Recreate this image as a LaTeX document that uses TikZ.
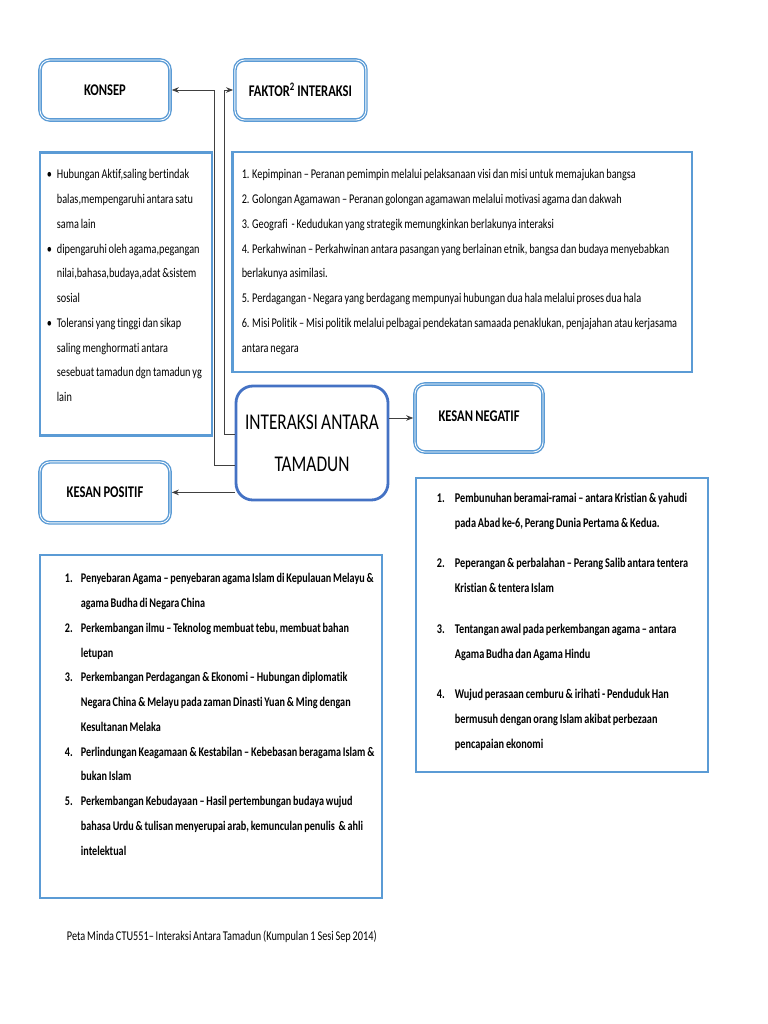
\documentclass[tikz,border=0pt]{standalone}
\usepackage{fontspec}
\setmainfont{Carlito}[FakeStretch=0.77, WordSpace=0.8, Ligatures={NoCommon}]
\usetikzlibrary{arrows.meta,positioning,calc}
\definecolor{boxblue}{RGB}{91,155,213}
\definecolor{hubblue}{RGB}{68,114,196}
% label of a list entry, and the indent of its next lines
\newcommand{\entry}[2]{\makebox[#1][l]{#2}}
\newcommand{\cont}[1]{\hspace*{#1}}
\tikzset{
  headbox/.style={draw=boxblue, line width=2.6pt, rounded corners=7pt,
    postaction={draw=white, line width=0.6pt},
    font=\fontsize{11.6}{14}\selectfont\bfseries,
    minimum width=3.25cm, minimum height=1.5cm, inner sep=0pt},
  listbox/.style={draw=boxblue, line width=2pt, rectangle, inner sep=0pt},
  listtext/.style={align=left, inner sep=0pt, anchor=west,
    font=\fontsize{9.5}{17.6}\selectfont},
  hubbox/.style={draw=hubblue, line width=2pt, rounded corners=12pt,
    align=center, font=\fontsize{16}{30}\selectfont,
    minimum width=3.8cm, minimum height=2.85cm},
  link/.style={draw=black!75, line width=0.6pt},
  linkarrow/.style={link, -{Stealth[length=5pt, width=4pt]}},
}
\begin{document}
\begin{tikzpicture}[x=1cm, y=1cm]
\path[use as bounding box] (0,0) rectangle (19.2,-25.6);

%% ── Centre ───────────────────────────────────────────────────────────────
\node[hubbox] (tamadun) at (7.8,-11.075) {INTERAKSI ANTARA\\TAMADUN};

%% ── Headings ─────────────────────────────────────────────────────────────
\node[headbox] (konsep)  at (2.625,-2.25)  {KONSEP};
\node[headbox, minimum width=3.275cm] (faktor) at (7.51,-2.25)
  {FAKTOR\textsuperscript{2} INTERAKSI};
\node[headbox, minimum width=3.2cm, minimum height=1.7cm] (negatif)
  at (11.975,-10.45) {\raisebox{2pt}{KESAN NEGATIF}};
\node[headbox, minimum height=1.525cm] (positif) at (2.625,-12.31)
  {KESAN POSITIF};

%% ── Konsep ───────────────────────────────────────────────────────────────
\node[listbox, minimum width=4.3cm, minimum height=7.075cm] (konsepbox)
  at (3.15,-7.34) {};
\node[listtext] (konsepteks) at ([xshift=0.2cm, yshift=0.2cm]konsepbox.west) {%
  \entry{0.25cm}{\textbullet}Hubungan Aktif,saling bertindak\\
  \cont{0.25cm}balas,mempengaruhi antara satu\\
  \cont{0.25cm}sama lain\\
  \entry{0.25cm}{\textbullet}dipengaruhi oleh agama,pegangan\\
  \cont{0.25cm}nilai,bahasa,budaya,adat \&sistem\\
  \cont{0.25cm}sosial\\
  \entry{0.25cm}{\textbullet}Toleransi yang tinggi dan sikap\\
  \cont{0.25cm}saling menghormati antara\\
  \cont{0.25cm}sesebuat tamadun dgn tamadun yg\\
  \cont{0.25cm}lain};

%% ── Faktor interaksi ─────────────────────────────────────────────────────
\node[listbox, minimum width=11.475cm, minimum height=5.5cm] (faktorbox)
  at (11.56,-6.55) {};
\node[listtext] (faktorteks) at ([xshift=0.25cm]faktorbox.west) {%
  1. Kepimpinan -- Peranan pemimpin melalui pelaksanaan visi dan misi untuk memajukan bangsa\\
  2. Golongan Agamawan -- Peranan golongan agamawan melalui motivasi agama dan dakwah\\
  3. Geografi \ - Kedudukan yang strategik memungkinkan berlakunya interaksi\\
  4. Perkahwinan -- Perkahwinan antara pasangan yang berlainan etnik, bangsa dan budaya menyebabkan\\
  berlakunya asimilasi.\\
  5. Perdagangan - Negara yang berdagang mempunyai hubungan dua hala melalui proses dua hala\\
  6. Misi Politik -- Misi politik melalui pelbagai pendekatan samaada penaklukan, penjajahan atau kerjasama\\
  antara negara};

%% ── Kesan positif ────────────────────────────────────────────────────────
\node[listbox, minimum width=8.55cm, minimum height=8.575cm] (positifbox)
  at (5.275,-18.16) {};
\node[listtext, font=\fontsize{9.4}{17.6}\selectfont\bfseries] (positifteks)
  at ([xshift=0.65cm, yshift=0.3cm]positifbox.west) {%
  \entry{0.4cm}{1.}Penyebaran Agama -- penyebaran agama Islam di Kepulauan Melayu \&\\
  \cont{0.4cm}agama Budha di Negara China\\
  \entry{0.4cm}{2.}Perkembangan ilmu -- Teknolog membuat tebu, membuat bahan\\
  \cont{0.4cm}letupan\\
  \entry{0.4cm}{3.}Perkembangan Perdagangan \& Ekonomi -- Hubungan diplomatik\\
  \cont{0.4cm}Negara China \& Melayu pada zaman Dinasti Yuan \& Ming dengan\\
  \cont{0.4cm}Kesultanan Melaka\\
  \entry{0.4cm}{4.}Perlindungan Keagamaan \& Kestabilan -- Kebebasan beragama Islam \&\\
  \cont{0.4cm}bukan Islam\\
  \entry{0.4cm}{5.}Perkembangan Kebudayaan -- Hasil pertembungan budaya wujud\\
  \cont{0.4cm}bahasa Urdu \& tulisan menyerupai arab, kemunculan penulis \ \& ahli\\
  \cont{0.4cm}intelektual};

%% ── Kesan negatif ────────────────────────────────────────────────────────
\node[listbox, minimum width=7.3cm, minimum height=7.35cm] (negatifbox)
  at (14.05,-15.625) {};
\node[listtext, font=\fontsize{9.5}{17.6}\selectfont\bfseries] (negatifteks)
  at ([xshift=0.55cm, yshift=0.08cm]negatifbox.west) {%
  \entry{0.45cm}{1.}Pembunuhan beramai-ramai -- antara Kristian \& yahudi\\
  \cont{0.45cm}pada Abad ke-6, Perang Dunia Pertama \& Kedua.\\[11.4pt]
  \entry{0.45cm}{2.}Peperangan \& perbalahan -- Perang Salib antara tentera\\
  \cont{0.45cm}Kristian \& tentera Islam\\[11.4pt]
  \entry{0.45cm}{3.}Tentangan awal pada perkembangan agama -- antara\\
  \cont{0.45cm}Agama Budha dan Agama Hindu\\[11.4pt]
  \entry{0.45cm}{4.}Wujud perasaan cemburu \& irihati - Penduduk Han\\
  \cont{0.45cm}bermusuh dengan orang Islam akibat perbezaan\\
  \cont{0.45cm}pencapaian ekonomi};

%% ── Connectors ───────────────────────────────────────────────────────────
\draw[linkarrow] ([yshift=-0.55cm]tamadun.west) -- ++(-0.5,0) |- (konsep.east);
\draw[linkarrow] ([yshift=0.225cm]tamadun.west) -- ++(-0.25,0) |- (faktor.west);
\draw[linkarrow] (tamadun.west |- positif.east) -- (positif.east);
\draw[linkarrow] (tamadun.east |- negatif.west) -- (negatif.west);

%% ── Footer ───────────────────────────────────────────────────────────────
\node[font=\fontsize{9.5}{11}\selectfont, anchor=west] (footer) at (1.55,-23.425)
  {Peta Minda CTU551-- Interaksi Antara Tamadun (Kumpulan 1 Sesi Sep 2014)};

\end{tikzpicture}
\end{document}
